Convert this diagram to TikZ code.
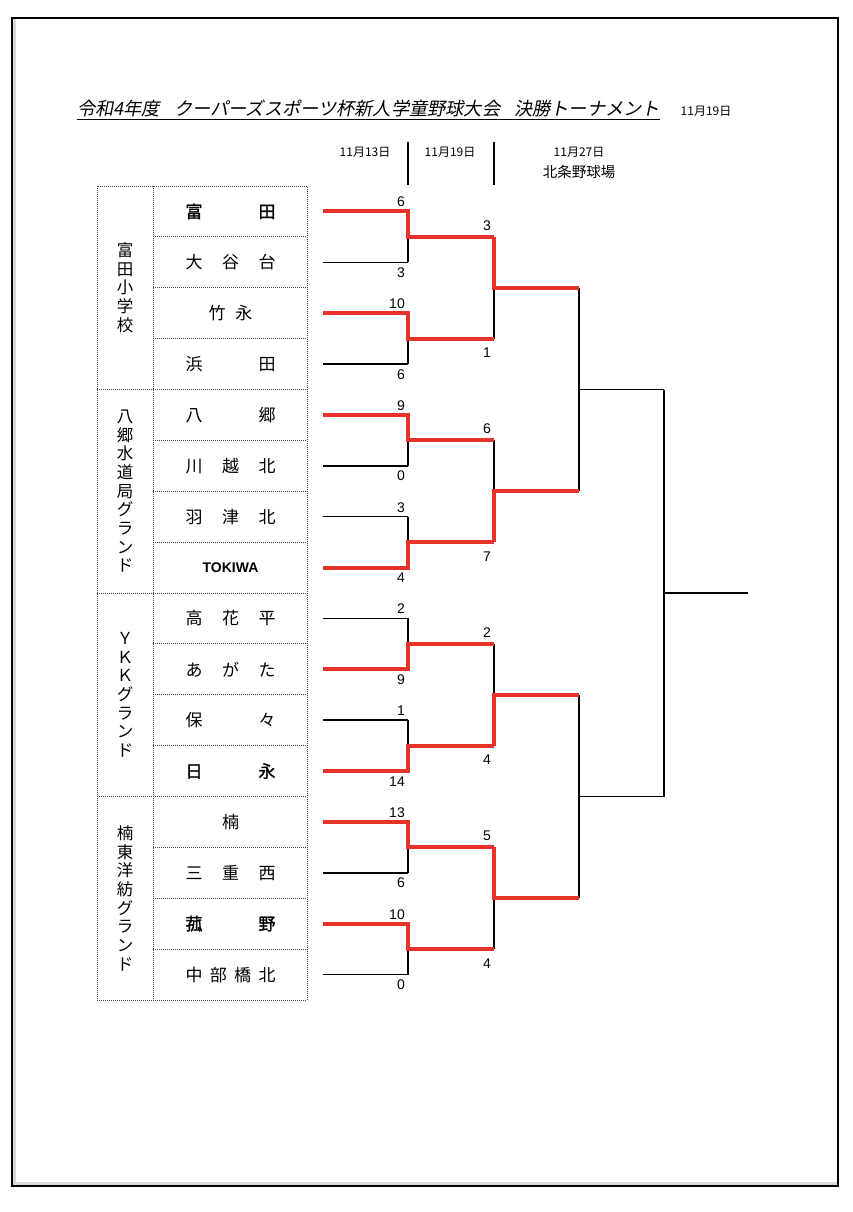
\documentclass[tikz,border=0pt]{standalone}
\usepackage{fontspec}
\newfontfamily\jp{Noto Sans CJK JP}
\newfontfamily\jpb{Noto Sans CJK JP}[FakeBold=1.5]
\newfontfamily\jpit{Noto Sans CJK JP}[FakeSlant=0.2]
\newfontfamily\arial{Liberation Sans}
\definecolor{winred}{RGB}{229,50,42}
\newcommand\dist[1]{\makebox[90pt][s]{#1}}
\tikzset{
    team/.style={inner sep=0pt, font=\jp\fontsize{17}{17}\selectfont},
    grp/.style={align=center, inner sep=0pt, font=\jp\fontsize{16.5}{18.7}\selectfont},
    score/.style={inner sep=0pt, anchor=base east, font=\arial\fontsize{14}{14}\selectfont},
    date/.style={inner sep=0pt, font=\jp\fontsize{12}{12}\selectfont},
    grid/.style={line width=0.9pt, black!75, dash pattern=on 1pt off 1pt},
    bk/.style={line width=1.5pt},
    win/.style={line width=4pt, winred, line join=miter}
}

\begin{document}
\begin{tikzpicture}[x=1pt,y=-1pt]
    \useasboundingbox (0,0) rectangle (853,1212);
    \fill[white] (0,0) rectangle (853,1212);
    % page frame
    \draw[gray!30, line width=3pt] (14.5,19) -- (14.5,1183.5) -- (837,1183.5);
    \draw[line width=1.7pt] (12,18) rectangle (838,1186);

    % title
    \node[inner sep=0pt, anchor=base west, font=\jpit\fontsize{18.2}{18.2}\selectfont] (title) at (77,116)
        {令和4年度\hspace{14pt}クーパーズスポーツ杯新人学童野球大会\hspace{14pt}決勝トーナメント};
    \draw[line width=1.6pt] ([yshift=-3.5pt]title.base west) -- ([yshift=-3.5pt]title.base east);
    \node[date] (today) at (706,111) {11月19日};

    % round headers
    \node[date] (day1) at (365,152) {11月13日};
    \node[date] (day2) at (450,152) {11月19日};
    \node[date] (day3) at (579,152) {11月27日};
    \node[date, font=\jp\fontsize{14.5}{14.5}\selectfont] (venue) at (579,172) {北条野球場};
    \draw[bk] (408,142) -- (408,185);
    \draw[bk] (494,142) -- (494,185);

    % table
    \draw[grid] (97,186) rectangle (307,1000);
    \draw[grid] (153,186) -- (153,1000);
    \foreach \i in {1,...,15} {
        \pgfmathsetmacro\yy{186+\i*50.875}
        \pgfmathtruncatemacro\gg{mod(\i,4)}
        \ifnum\gg=0 \draw[grid] (97,\yy) -- (307,\yy); \else \draw[grid] (153,\yy) -- (307,\yy); \fi
    }

    \node[grp] (grp1) at (125,287.75) {富\\田\\小\\学\\校};
    \node[grp] (grp2) at (125,491.25) {八\\郷\\水\\道\\局\\グ\\ラ\\ン\\ド};
    \node[grp] (grp3) at (125,694.75) {Ｙ\\Ｋ\\Ｋ\\グ\\ラ\\ン\\ド};
    \node[grp] (grp4) at (125,898.25) {楠\\東\\洋\\紡\\グ\\ラ\\ン\\ド};

    \foreach \i/\nm in {0/{\jpb\dist{富\hfill 田}}, 1/{\dist{大\hfill 谷\hfill 台}}, 2/{竹\hspace{10pt}永},
        3/{\dist{浜\hfill 田}}, 4/{\dist{八\hfill 郷}}, 5/{\dist{川\hfill 越\hfill 北}},
        6/{\dist{羽\hfill 津\hfill 北}}, 7/{\arial\bfseries\fontsize{14}{14}\selectfont TOKIWA},
        8/{\dist{高\hfill 花\hfill 平}}, 9/{\dist{あ\hfill が\hfill た}}, 10/{\dist{保\hfill 々}},
        11/{\jpb\dist{日\hfill 永}}, 12/{楠}, 13/{\dist{三\hfill 重\hfill 西}},
        14/{\jpb\dist{菰\hfill 野}}, 15/{\dist{中\hfill 部\hfill 橋\hfill 北}}}
        \node[team] (team\i) at (230.5,{211.4375+\i*50.875}) {\nm};

    % bracket points
    \foreach \i in {0,...,15} {
        \coordinate (t\i) at (323,{211.4375+\i*50.875});
        \coordinate (a\i) at (408,{211.4375+\i*50.875});
    }
    \foreach \j in {0,...,7} {
        \coordinate (m\j) at (408,{236.875+\j*101.75});
        \coordinate (n\j) at (494,{236.875+\j*101.75});
    }
    \foreach \k in {0,...,3} {
        \coordinate (p\k) at (494,{287.75+\k*203.5});
        \coordinate (q\k) at (579,{287.75+\k*203.5});
    }
    \coordinate (r0) at (579,389.5);  \coordinate (u0) at (664,389.5);
    \coordinate (r1) at (579,796.5);  \coordinate (u1) at (664,796.5);
    \coordinate (f0) at (664,593);    \coordinate (f1) at (748,593);

    % black bracket
    \foreach \i in {0,...,15} \draw[bk] (t\i) -- (a\i);
    \foreach \j in {0,...,7} {
        \pgfmathtruncatemacro\ja{2*\j}
        \pgfmathtruncatemacro\jb{2*\j+1}
        \draw[bk] (a\ja) -- (a\jb);
        \draw[bk] (m\j) -- (n\j);
    }
    \foreach \k in {0,...,3} {
        \pgfmathtruncatemacro\ka{2*\k}
        \pgfmathtruncatemacro\kb{2*\k+1}
        \draw[bk] (n\ka) -- (n\kb);
        \draw[bk] (p\k) -- (q\k);
    }
    \draw[bk] (q0) -- (q1);
    \draw[bk] (q2) -- (q3);
    \draw[bk] (r0) -- (u0);
    \draw[bk] (r1) -- (u1);
    \draw[bk] (u0) -- (u1);
    \draw[bk] (f0) -- (f1);

    % winners
    \foreach \w/\j in {0/0,2/1,4/2,7/3,9/4,11/5,12/6,14/7}
        \draw[win] (t\w) -- (a\w) -- (m\j) -- (n\j);
    \foreach \w/\k in {0/0,3/1,5/2,6/3}
        \draw[win] (n\w) -- (p\k) -- (q\k);

    % scores
    \foreach \i/\sc in {0/6,2/10,4/9,6/3,8/2,10/1,12/13,14/10}
        \node[score] (sa\i) at ([shift={(-3,-4.5)}]a\i) {\sc};
    \foreach \i/\sc in {1/3,3/6,5/0,7/4,9/9,11/14,13/6,15/0}
        \node[score] (sa\i) at ([shift={(-3,15)}]a\i) {\sc};
    \foreach \i/\sc in {0/3,2/6,4/2,6/5}
        \node[score] (sn\i) at ([shift={(-3,-6.7)}]n\i) {\sc};
    \foreach \i/\sc in {1/1,3/7,5/4,7/4}
        \node[score] (sn\i) at ([shift={(-3,19)}]n\i) {\sc};
\end{tikzpicture}
\end{document}
